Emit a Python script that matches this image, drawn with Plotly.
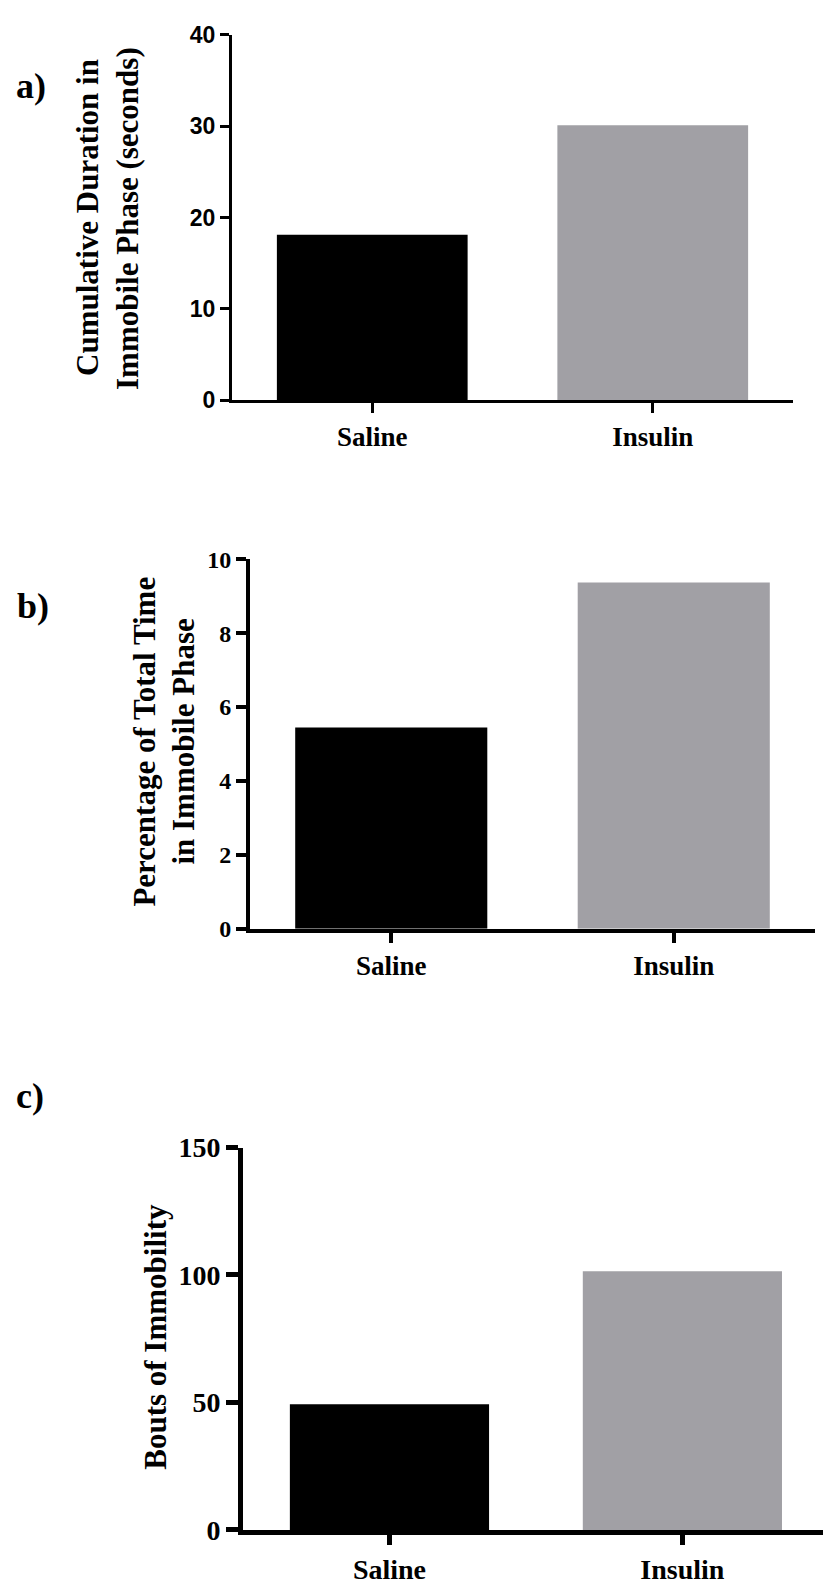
import plotly.graph_objects as go

# ---- data ----
categories = ["Saline", "Insulin"]
duration_seconds = [18.1, 30.1]
percent_immobile = [5.45, 9.37]
bouts_immobility = [49.3, 101.5]
bar_colors = ["#000000", "#a1a0a5"]

ticks_a = [0, 10, 20, 30, 40]
ticks_b = [0, 2, 4, 6, 8, 10]
ticks_c = [0, 50, 100, 150]

title_a = ["Cumulative Duration in", "Immobile Phase (seconds)"]
title_b = ["Percentage of Total Time", "in Immobile Phase"]
title_c = ["Bouts of Immobility"]
panel_labels = ["a)", "b)", "c)"]

W, H = 823, 1593


def ydom(top_px, bottom_px):
    return [1 - bottom_px / H, 1 - top_px / H]


def xdom(left_px, right_px):
    return [left_px / W, min(1.0, right_px / W)]


serif = "Liberation Serif"
sans = "Liberation Sans"

fig = go.Figure()

fig.add_trace(go.Bar(x=categories, y=duration_seconds, marker_color=bar_colors,
                     marker_line_width=0, width=0.68, xaxis="x", yaxis="y"))
fig.add_trace(go.Bar(x=categories, y=percent_immobile, marker_color=bar_colors,
                     marker_line_width=0, width=0.68, xaxis="x2", yaxis="y2"))
fig.add_trace(go.Bar(x=categories, y=bouts_immobility, marker_color=bar_colors,
                     marker_line_width=0, width=0.68, xaxis="x3", yaxis="y3"))


def xaxis_cfg(dom, rng, anchor, lw, size):
    return dict(domain=dom, range=rng, anchor=anchor, type="category",
                showline=True, linecolor="black", linewidth=lw,
                ticks="outside", ticklen=10, tickwidth=lw, tickcolor="black",
                showgrid=False, zeroline=False,
                tickfont=dict(family=serif, size=size, color="black", weight="bold"))


def yaxis_cfg(dom, rng, anchor, lw, vals, fam, size, ticklen):
    return dict(domain=dom, range=rng, anchor=anchor,
                showline=True, linecolor="black", linewidth=lw,
                ticks="outside", ticklen=ticklen, tickwidth=lw, tickcolor="black",
                tickvals=vals, ticktext=[str(v) for v in vals],
                showgrid=False, zeroline=False,
                tickfont=dict(family=fam, size=size, color="black", weight="bold"))


fig.update_layout(
    width=W, height=H,
    margin=dict(l=0, r=0, t=0, b=0),
    paper_bgcolor="white", plot_bgcolor="white",
    showlegend=False,
    xaxis=xaxis_cfg(xdom(232, 793), [-0.5, 1.5], "y", 3, 27),
    yaxis=yaxis_cfg(ydom(20, 393), [0, 40], "x", 3, ticks_a, sans, 23, 9),
    xaxis2=xaxis_cfg(xdom(250, 815), [-0.5, 1.5], "y2", 4, 27),
    yaxis2=yaxis_cfg(ydom(555, 932), [0, 10], "x2", 4, ticks_b, serif, 24, 10),
    xaxis3=xaxis_cfg(xdom(243, 823), [-0.5, 1.48], "y3", 5, 28),
    yaxis3=yaxis_cfg(ydom(1155, 1545), [0, 150], "x3", 5, ticks_c, serif, 28, 12),
)

title_font = dict(family=serif, size=31, color="black", weight="bold")
label_font = dict(family=serif, size=36, color="black", weight="bold")

annotations = []
# rotated y-axis titles, one annotation per line (x centre px, y centre px)
title_specs = [
    (title_a, [88, 128], 207),
    (title_b, [145, 184], 741),
    (title_c, [156], 1348),
]
for lines, xs, yc in title_specs:
    for line, xc in zip(lines, xs):
        annotations.append(dict(text=line, x=xc / W, y=1 - yc / H,
                                textangle=-90, font=title_font))

label_pos = [(31, 72), (33, 603), (30, 1102)]
for lab, (xc, yc) in zip(panel_labels, label_pos):
    annotations.append(dict(text=lab, x=xc / W, y=1 - yc / H, font=label_font))

for a in annotations:
    a.update(xref="paper", yref="paper", showarrow=False, xanchor="center", yanchor="middle")
fig.update_layout(annotations=annotations)

fig.write_html("out.html",
               config={"displayModeBar": False},
               post_script="document.body.style.margin='0';document.body.style.overflow='hidden';")
